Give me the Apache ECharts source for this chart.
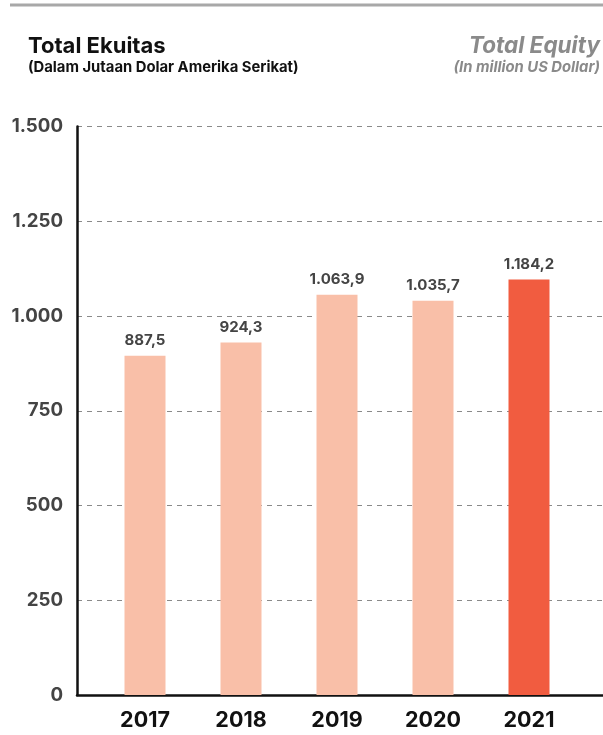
<!DOCTYPE html>
<html>
<head>
<meta charset="utf-8">
<script src="https://cdn.jsdelivr.net/npm/echarts@6/dist/echarts.min.js"></script>
<style>
html,body{margin:0;padding:0;background:#fff;}
#c{width:603px;height:735px;}
</style>
</head>
<body>
<div id="c"></div>
<script>
const categories = ['2017', '2018', '2019', '2020', '2021'];
const barValues = [895, 930, 1056, 1040, 1096];
const valueLabels = ['887,5', '924,3', '1.063,9', '1.035,7', '1.184,2'];
const yTicks = [0, 250, 500, 750, 1000, 1250, 1500];
const barColors = ['#F9BFA8', '#F9BFA8', '#F9BFA8', '#F9BFA8', '#F15C40'];

const FONT = 'Inter, "Noto Sans", sans-serif';
const fmt = v => v >= 1000 ? (Math.floor(v / 1000) + '.' + String(v % 1000).padStart(3, '0')) : String(v);

const chart = echarts.init(document.getElementById('c'), null, {renderer: 'canvas'});
chart.setOption({
  animation: false,
  backgroundColor: '#fff',
  textStyle: {fontFamily: FONT},
  graphic: [
    {type: 'line', shape: {x1: 10, y1: 5, x2: 603, y2: 5}, style: {stroke: '#A8A8A8', lineWidth: 3}},
    {type: 'text', left: 28, top: 35, style: {text: 'Total Ekuitas', font: 'bold 22px ' + FONT, fill: '#111'}},
    {type: 'text', left: 28, top: 60, style: {text: '(Dalam Jutaan Dolar Amerika Serikat)', font: 'bold 14.8px ' + FONT, fill: '#111'}},
    {type: 'text', right: 3, top: 35, style: {text: 'Total Equity', font: 'italic bold 22.5px ' + FONT, fill: '#8A8A8A', align: 'right'}},
    {type: 'text', right: 3, top: 60, style: {text: '(In million US Dollar)', font: 'italic bold 14.8px ' + FONT, fill: '#8A8A8A', align: 'right'}}
  ],
  grid: [
    {left: 77, right: 0, top: 126.5, bottom: 40},
    {left: 97, right: 26, top: 126.5, bottom: 40}
  ],
  xAxis: [
    {gridIndex: 0, type: 'category', data: categories, axisLabel: {show: false}, axisTick: {show: false},
     axisLine: {show: true, lineStyle: {color: '#111', width: 2.5}}},
    {gridIndex: 1, type: 'category', data: categories, axisTick: {show: false}, axisLine: {show: false},
     axisLabel: {color: '#111', fontSize: 21.5, fontWeight: 'bold', margin: 15, fontFamily: FONT}}
  ],
  yAxis: [
    {gridIndex: 0, type: 'value', min: 0, max: 1500, interval: 250,
     axisLine: {show: true, lineStyle: {color: '#111', width: 2.5}},
     axisTick: {show: false},
     axisLabel: {color: '#444', fontSize: 18.7, fontWeight: 'bold', margin: 14, fontFamily: FONT, formatter: v => yTicks.includes(v) ? fmt(v) : ''},
     splitLine: {show: true, lineStyle: {color: '#8A8A8A', type: [5, 5], width: 1}}},
    {gridIndex: 1, type: 'value', min: 0, max: 1500, interval: 250, show: false, splitLine: {show: false}}
  ],
  series: [{
    type: 'bar',
    xAxisIndex: 1, yAxisIndex: 1,
    barWidth: 41,
    data: barValues.map((v, i) => ({value: v, itemStyle: {color: barColors[i]}})),
    label: {show: true, position: 'top', distance: 8, color: '#444', fontSize: 15, fontWeight: 'bold', fontFamily: FONT,
      formatter: p => valueLabels[p.dataIndex]}
  }]
});
</script>
</body>
</html>
